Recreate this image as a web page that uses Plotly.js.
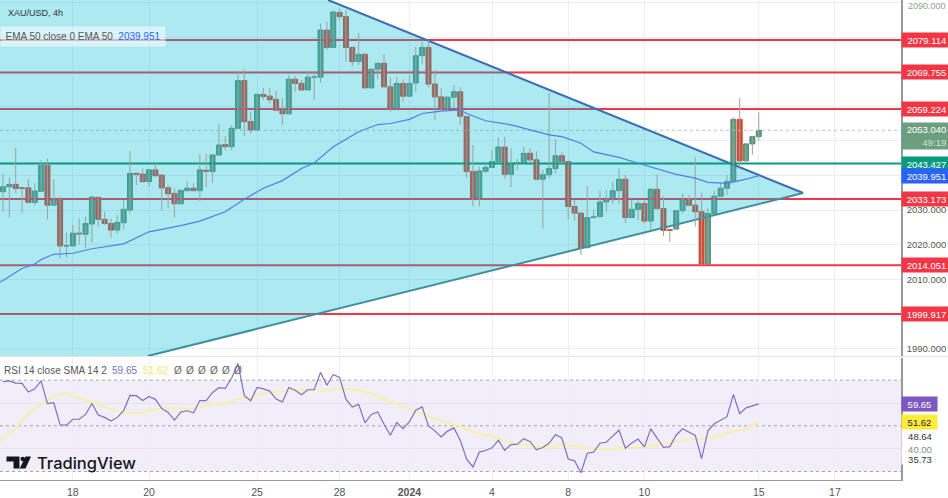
<!DOCTYPE html>
<html><head><meta charset="utf-8">
<script src="https://cdn.plot.ly/plotly-3.0.1.min.js"></script>
<style>html,body{margin:0;padding:0;background:#fff;overflow:hidden}#c{width:948px;height:498px}</style>
</head><body><div id="c"></div>
<script>
const open_ = [2035.3,2036.7,2037.4,2036.4,2036.4,2032.2,2035.4,2042.9,2031.4,2033.1,2019.6,2019.6,2023.3,2023,2025.95,2033.65,2027.3,2026.1,2024.2,2026.3,2030,2040.6,2040.4,2038.2,2041.6,2040.1,2036.4,2034.8,2031.8,2035.6,2036.3,2035.6,2041.5,2041.1,2045.9,2048.9,2048.3,2053.6,2067.4,2055.6,2053.1,2063.4,2062.9,2062,2058.8,2057.8,2067.8,2066.6,2064.7,2068.4,2068.4,2082,2077,2087.1,2085.9,2077,2072.9,2075,2065.3,2070.7,2072.4,2065.6,2059.4,2066.6,2062.9,2066.7,2074.6,2077,2066.4,2062.7,2059.1,2062.6,2064.2,2057,2041.1,2033.4,2041.2,2042.3,2044,2048.2,2040.3,2043.5,2043.5,2046.4,2044.5,2038.9,2040.2,2042,2045.7,2044,2031,2029.1,2019.1,2027.8,2028.1,2032.3,2033,2035.6,2038.9,2027.8,2030.2,2031.9,2026.8,2036,2030.4,2024.3,2024.5,2029.8,2033.1,2031.4,2029.5,2014.4,2029,2034,2036.3,2038.3,2056.2,2044.2,2049.1,2051.2];
const high_ = [2040.6,2039.4,2048,2036.7,2038.9,2037.7,2044.4,2044.9,2038.9,2033.9,2023.4,2025.7,2027.6,2028.1,2033.9,2033.9,2029.5,2027.6,2028.6,2032.9,2047,2040.8,2042,2041.7,2043.5,2040.1,2037.2,2036.3,2035.8,2038.2,2037.7,2046.1,2046.2,2046.2,2055,2051.4,2054.6,2070,2070.7,2058.4,2063.7,2065.3,2065.3,2064.5,2062.3,2069,2068.7,2067.6,2070.2,2070.2,2083.9,2084.4,2087.8,2088.3,2087.8,2077.2,2081.2,2075.5,2070.9,2072.6,2075,2068.5,2068.3,2067.7,2069,2077.2,2079.1,2079.1,2070.6,2065.2,2062.9,2066.1,2065.4,2057.2,2048.8,2042.5,2043.5,2047.3,2051,2051.2,2047.8,2044.9,2048.3,2047.8,2046.9,2041.6,2063.9,2050.4,2046.7,2044.2,2032.9,2029.1,2036.9,2030,2035.8,2035.8,2038.2,2042,2040.1,2032.9,2032.7,2032.9,2036.3,2040.3,2033.9,2024.7,2030,2034.8,2034.3,2045.2,2035,2030.5,2035.5,2037.7,2040.1,2056.8,2062.3,2049.3,2051.4,2058.2];
const low_ = [2029.5,2027.8,2034.8,2029.2,2031.9,2031.4,2035.3,2027.3,2031.4,2016,2016.3,2019.4,2019.9,2018.9,2020.6,2025.2,2025.7,2022,2023.1,2024.4,2029,2037.2,2038,2036.7,2039.6,2029.8,2030.5,2027.8,2031.7,2035.3,2035.3,2032.7,2036.7,2037.9,2045.6,2047.3,2047.3,2053.4,2051.4,2052.2,2052.9,2061.8,2060.8,2058.6,2054.6,2057.7,2064.2,2064.5,2064.7,2061.8,2066.8,2076.2,2076.9,2084.9,2072.9,2071.6,2071.9,2065.2,2065.2,2067.9,2065.4,2058.4,2059.2,2061.3,2062.7,2064.2,2072.1,2065.4,2056,2059,2058.9,2059.4,2054.6,2039.2,2031,2031,2040.6,2042.2,2043.8,2039.1,2036.6,2041.6,2043.4,2043.5,2038.8,2024.7,2039.2,2040.6,2043.8,2027.3,2026.9,2017,2018.9,2027.6,2028,2029.5,2031.9,2031.7,2026.2,2027.6,2027.1,2026.2,2024.2,2030.2,2022.5,2020.7,2024.2,2029,2031.3,2025.2,2013.6,2014.4,2028.9,2033.8,2034.3,2038.2,2042.3,2044,2046,2050];
const close_ = [2036.7,2037.4,2036.2,2036.3,2032.2,2035.5,2042.9,2031.4,2033.1,2019.6,2019.7,2023.3,2023.1,2026.1,2033.75,2027.3,2026.1,2024.2,2026.4,2030.2,2040.6,2040.3,2038.2,2041.6,2039.9,2036.4,2034.7,2031.8,2035.7,2036.3,2035.6,2041.6,2041.2,2045.9,2048.8,2048.3,2053.6,2067.4,2055.5,2053.1,2063.4,2062.8,2061.9,2058.8,2057.8,2067.8,2066.6,2064.7,2068.4,2068.4,2082,2077,2087.2,2085.9,2077,2072.9,2075,2065.3,2070.7,2072.4,2065.6,2059.4,2066.6,2062.9,2066.6,2074.6,2077,2066.4,2062.7,2059.1,2062.6,2064.2,2057.1,2041.1,2033.4,2041.3,2042.3,2044,2048.2,2040.3,2043.5,2043.6,2046.4,2044.5,2038.9,2040.2,2042,2045.7,2044,2031,2029.1,2019.1,2027.8,2028,2032.3,2033.1,2035.6,2038.9,2027.8,2030.2,2031.9,2026.8,2036,2030.4,2024.1,2024.1,2029.8,2033.1,2031.4,2029.5,2014.4,2029,2034,2036.3,2038.3,2056.2,2044.2,2049.1,2051.2,2053.04];

const emaX = [-0.47,0,3,5,6,8,11,14,19,23,28,31,35,38,41,44,47,49,52,54,56,59,61,64,66,69,72,73,76,80,84,86,88,91,93,97,100,103,106,109,111,114,117,119];
const emaY = [2009.2,2009.6,2013.1,2014.4,2015.7,2017.2,2017.5,2018.8,2020.2,2023.7,2025.5,2026.8,2029.5,2033.1,2036.3,2038.5,2042,2043.6,2048.3,2050.4,2052.6,2054.7,2055,2056.2,2057.9,2058.6,2058.9,2057.9,2055.8,2054.6,2052.6,2051.7,2051.2,2049.3,2046.8,2045.2,2043.5,2042,2040.3,2039.2,2038,2037.7,2038.9,2039.951];

const rsi = [69.4,69.7,68.7,68.6,64.8,66.2,69.7,59.7,60.1,50.4,50.3,52.9,52.9,55,59.8,54.7,53.7,52.1,53.7,56.7,63.3,63.2,61.1,62.9,61.6,57.6,55.9,52.5,56,56.6,55.7,61.1,61,64.6,66.7,66.4,70.8,77.3,63.2,61,66.8,66.2,65.2,61.7,60.5,66.8,65.6,63.6,65.8,65.8,73.4,67.8,72.5,71.2,61.7,58.2,59.4,51.3,55,56.1,50.7,45.9,51.5,48.8,51.8,56.9,58.3,50,47.8,45.2,47.7,49.1,43.7,35.4,32,38.5,39.2,40.4,43.7,39.3,41.8,42,44.4,43.1,39.5,40.5,42.5,46.2,44.7,35.5,34.7,29.5,38,38.5,42.4,42.8,45.5,48.1,40.2,42.5,44.2,40.8,48.7,44.5,40.6,40.9,45.9,48.7,47.2,45.8,35.7,47.8,50.9,52.5,54,63.7,55.3,57.9,58.8,59.65];
const smaX = [-0.47,2,4,6,8,10,13,16,19,22,24,26,30,33,35,37,39,41,45,48,51,53,56,58,59,62,65,68,69,72,74,78,80,83,85,88,90,92,96,98,101,103,107,109,110,113,115,117,119];
const smaY = [43.3,48.8,55.4,59.4,62.7,64.3,61.3,58.3,55.7,55.7,57.3,57.9,57.3,59.5,59.8,61.7,62.3,64.2,65.4,65.9,65.4,66.5,65.4,64.3,62.7,59.4,56.4,53.2,51.8,50,47.4,44.7,42.5,41.4,40.2,41.8,41.2,40.1,39.9,40.5,40.8,41.8,43.7,44.4,43.9,45.9,47.7,48.5,51.62];

const redLevels = [2079.114,2069.755,2059.224,2033.173,2014.051,1999.917];
const tealLevel = 2043.427;
const lastPrice = 2053.04;
const emaLast = 2039.951;
const triX = [-0.47,51.2,126,22.8,-0.47];
const triY = [2090.7,2090.7,2034.9,1987.8,1987.8];
const xTickVals = [11,23,40,53,64,77,89,101,119,131];
const xTickText = ['18','20','25','28','<b>2024</b>','4','8','10','15','17'];
const yGrid = [2090,2080,2070,2060,2050,2040,2030,2020,2010,2000,1990];
const yShown = [2030,2020,2010,1990];

const XR = [-0.47,141.4], FONT = '"Liberation Sans", Arial, sans-serif';
const idx = open_.map((_,i)=>i);
const wx=[], wy=[];
idx.forEach(i=>{wx.push(i,i,null); wy.push(low_[i],high_[i],null);});

const traces = [];
redLevels.forEach(v=>traces.push({type:'scatter',mode:'lines',x:XR,y:[v,v],line:{color:'#f23645',width:2},hoverinfo:'skip'}));
traces.push({type:'scatter',mode:'lines',x:XR,y:[lastPrice,lastPrice],line:{color:'#b9c4bd',width:1,dash:'dot'},hoverinfo:'skip'});
traces.push({type:'scatter',mode:'lines',x:triX,y:triY,fill:'toself',fillcolor:'rgba(0,188,212,0.32)',line:{width:0},hoverinfo:'skip'});
traces.push({type:'scatter',mode:'lines',x:triX.slice(1,3),y:triY.slice(1,3),line:{color:'#3a6fb5',width:2},hoverinfo:'skip'});
traces.push({type:'scatter',mode:'lines',x:triX.slice(2,4),y:triY.slice(2,4),line:{color:'#3f8f9f',width:2},hoverinfo:'skip'});
traces.push({type:'scatter',mode:'lines',x:XR,y:[tealLevel,tealLevel],line:{color:'#089981',width:2},hoverinfo:'skip'});
traces.push({type:'scatter',mode:'lines',x:wx,y:wy,line:{color:'#98a2a3',width:1},connectgaps:false,hoverinfo:'skip'});
traces.push({type:'candlestick',x:idx,open:open_,close:close_,
  high:idx.map(i=>Math.max(open_[i],close_[i])),low:idx.map(i=>Math.min(open_[i],close_[i])),
  increasing:{line:{color:'#558f73',width:1},fillcolor:'#639c80'},
  decreasing:{line:{color:'#cc452f',width:1},fillcolor:'#e2482f'},
  whiskerwidth:0,hoverinfo:'skip'});
traces.push({type:'scatter',mode:'lines',x:emaX,y:emaY,line:{color:'#4b80e4',width:1.2},hoverinfo:'skip'});
traces.push({type:'scatter',mode:'lines',x:smaX,y:smaY,yaxis:'y2',line:{color:'#f9f0a0',width:1.8},hoverinfo:'skip'});
traces.push({type:'scatter',mode:'lines',x:idx,y:rsi,yaxis:'y2',line:{color:'#7f6fc4',width:1.2},hoverinfo:'skip'});

const px = x=>x/901, py = y=>(480-y)/480;
function box(text,yv,bg,color,yref,extra){
  return Object.assign({xref:'paper',x:1,xanchor:'left',yref:yref||'y',y:yv,yanchor:'middle',text,showarrow:false,
    bgcolor:bg,font:{family:FONT,size:9.5,color},width:47,height:14,align:'right',borderpad:0},extra||{});
}
const fmt = v=>v.toFixed(3)+'&nbsp;';
const ann = redLevels.map(v=>box(fmt(v),v,'#f23645','#fff'));
ann.push(box(fmt(tealLevel),tealLevel,'#089981','#fff'));
ann.push(box(fmt(emaLast),emaLast,'#2962ff','#fff'));
ann.push(box(fmt(lastPrice)+'<br><span style="color:#cfe3d6">49:19&nbsp;</span>',lastPrice,'#6b9f80','#fff','y',{height:26,yshift:-6}));
ann.push(box('40.00',40,'#fff','#888','y2',{width:36,height:10,align:'center'}));
ann.push(box('35.73',35.73,'#fff','#333','y2',{width:36,height:10,yshift:-1,align:'center'}));
ann.push(box('48.64',48.64,'#fff','#333','y2',{width:36,yshift:-7,align:'center'}));
ann.push(box('59.65',59.65,'#7e57c2','#fff','y2',{width:35,align:'center'}));
ann.push(box('51.62',51.62,'#ffeb3b','#222','y2',{width:35,align:'center'}));
function label(text,x,y,size,color,extra){
  return Object.assign({xref:'paper',yref:'paper',x:px(x),y:py(y),xanchor:'left',yanchor:'middle',text,showarrow:false,
    font:{family:FONT,size,color},borderpad:0},extra||{});
}
ann.push(label('XAU/USD, 4h',7,13,9,'#333'));
ann.push(label('EMA 50 close 0 EMA 50&nbsp;&nbsp;<span style="color:#2962ff">2039.951</span>',0,36.5,10,'#555',{bgcolor:'rgba(255,255,255,0.55)',width:164,height:19,align:'center'}));
ann.push(label('RSI 14 close SMA 14 2',3,370.5,10,'#555'));
ann.push(label('59.65',111,370.5,10,'#7e6fc4'));
ann.push(label('51.62',142,370.5,10,'#f5e76a'));
[173,185,197,209,221,233].forEach(x=>ann.push(label('Ø',x,370.5,10,'#666')));
ann.push(label('TradingView',36,462.5,16.5,'#131722',{font:{family:'Inter, '+FONT,size:16.5,color:'#131722',weight:500}}));
ann.push({xref:'paper',x:1,xanchor:'left',xshift:6,yref:'paper',y:py(6),yanchor:'middle',text:'2090.000',showarrow:false,font:{family:FONT,size:9,color:'#999'},borderpad:0});

const pathOf = pts=>'M'+pts.map(p=>px(p[0])+','+py(p[1])).join(' L')+' Z';
const shapes = [
  {type:'rect',xref:'x',yref:'y2',x0:XR[0],x1:XR[1],y0:30,y1:70,fillcolor:'rgba(126,87,194,0.1)',line:{width:0},layer:'below'},
  ...[70,50,30].map(v=>({type:'line',xref:'x',yref:'y2',x0:XR[0],x1:XR[1],y0:v,y1:v,line:{color:'#a3a3a8',width:1,dash:'3px,3px'},layer:'below'})),
  {type:'line',xref:'paper',yref:'paper',x0:0,x1:1.06,y0:py(356.5),y1:py(356.5),line:{color:'#e4e4e6',width:1}},
  {type:'path',xref:'paper',yref:'paper',path:pathOf([[6.5,456.5],[19.5,456.5],[19.5,468.5],[13.5,468.5],[13.5,461.5],[6.5,461.5]]),fillcolor:'#131722',line:{width:0}},
  {type:'circle',xref:'paper',yref:'paper',x0:px(20.5),x1:px(25),y0:py(461.2),y1:py(456.7),fillcolor:'#131722',line:{width:0}},
  {type:'path',xref:'paper',yref:'paper',path:pathOf([[25.5,456.5],[31,456.5],[25.5,468.5],[19.7,468.5]]),fillcolor:'#131722',line:{width:0}}
];

const layout = {
  width:948,height:498,margin:{l:0,r:47,t:0,b:18,pad:0},paper_bgcolor:'#fff',plot_bgcolor:'#fff',showlegend:false,boxgap:0.22,boxgroupgap:0,
  xaxis:{range:XR,anchor:'y2',tickmode:'array',tickvals:xTickVals,ticktext:xTickText,showgrid:true,gridcolor:'#eeeef2',gridwidth:1,
    zeroline:false,showline:true,linecolor:'#9a9a9a',linewidth:1,ticks:'',tickfont:{family:FONT,size:10.5,color:'#555'},rangeslider:{visible:false},ticklabelstandoff:2},
  yaxis:{domain:[(480-356)/480,1],range:[1987.8,2090.7],side:'right',tickmode:'array',tickvals:yGrid,
    ticktext:yGrid.map(v=>yShown.includes(v)?v.toFixed(3):''),showgrid:true,gridcolor:'#eeeef2',zeroline:false,showline:true,linecolor:'#9a9a9a',linewidth:1.5,
    ticks:'',tickfont:{family:FONT,size:9.5,color:'#555'},ticklabelstandoff:2},
  yaxis2:{domain:[0,(480-358)/480],range:[26.3,79.7],side:'right',tickmode:'array',tickvals:[60,40],ticktext:['',''],showgrid:true,gridcolor:'#e6e3ee',zeroline:false,
    showline:true,linecolor:'#9a9a9a',linewidth:1.5,ticks:''},
  annotations:ann,shapes
};
Plotly.newPlot('c',traces,layout,{displayModeBar:false,responsive:false});
</script></body></html>
